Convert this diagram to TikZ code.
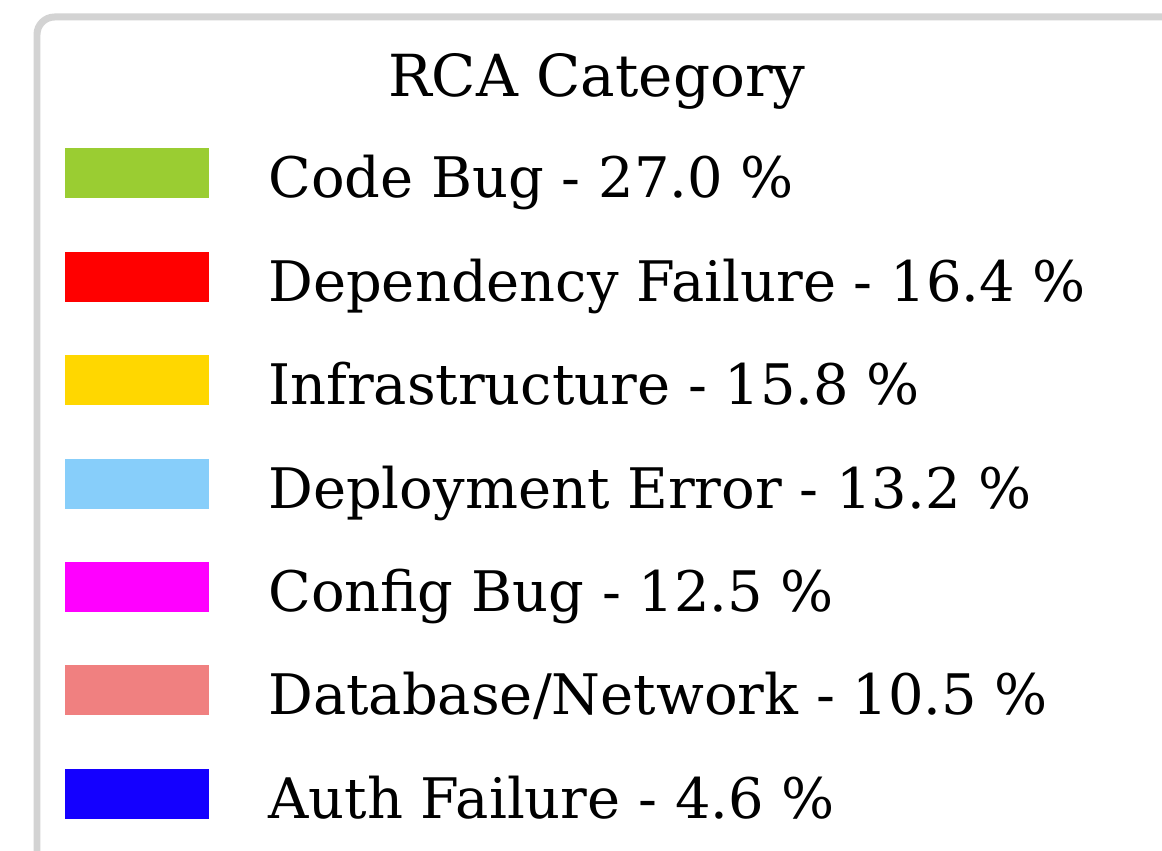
\documentclass[tikz,border=0pt]{standalone}
\usepackage{fontspec}
\setmainfont{DejaVu Serif}
\usepackage{xcolor}
\definecolor{lgframe}{HTML}{D3D3D3}
\definecolor{rcabug}{HTML}{9ACD32}
\definecolor{rcadep}{HTML}{FF0000}
\definecolor{rcainfra}{HTML}{FFD700}
\definecolor{rcadeploy}{HTML}{87CEFA}
\definecolor{rcaconfig}{HTML}{FF00FF}
\definecolor{rcanet}{HTML}{F08080}
\definecolor{rcaauth}{HTML}{1400FF}

\begin{document}
\begin{tikzpicture}[x=0.02cm, y=-0.02cm,
    swatch/.style={minimum width=2.88cm, minimum height=1cm, inner sep=0pt},
    entry/.style={anchor=base west, inner sep=0pt, font=\fontsize{31.8}{36}\selectfont}]
    \useasboundingbox (0,0) rectangle (1162,851);
    \clip (0,0) rectangle (1162,851);
    % legend frame, cut off at the right and bottom
    \draw[lgframe, line width=0.14cm, rounded corners=10pt] (37,17) rectangle (1220,920);
    \node[anchor=base, inner sep=0pt, font=\fontsize{33}{38}\selectfont] (title) at (597,97) {RCA Category};
    % swatches
    \node[swatch, fill=rcabug] (sw1) at (137,173) {};
    \node[swatch, fill=rcadep] (sw2) at (137,277) {};
    \node[swatch, fill=rcainfra] (sw3) at (137,380) {};
    \node[swatch, fill=rcadeploy] (sw4) at (137,484) {};
    \node[swatch, fill=rcaconfig] (sw5) at (137,587) {};
    \node[swatch, fill=rcanet] (sw6) at (137,690) {};
    \node[swatch, fill=rcaauth] (sw7) at (137,794) {};
    % labels
    \node[entry] (lb1) at (268,197) {Code Bug - 27.0 \%};
    \node[entry] (lb2) at (268,301) {Dependency Failure - 16.4 \%};
    \node[entry] (lb3) at (268,404) {Infrastructure - 15.8 \%};
    \node[entry] (lb4) at (268,508) {Deployment Error - 13.2 \%};
    \node[entry] (lb5) at (268,611) {Config Bug - 12.5 \%};
    \node[entry] (lb6) at (268,714) {Database/Network - 10.5 \%};
    \node[entry] (lb7) at (268,818) {Auth Failure - 4.6 \%};
\end{tikzpicture}
\end{document}
